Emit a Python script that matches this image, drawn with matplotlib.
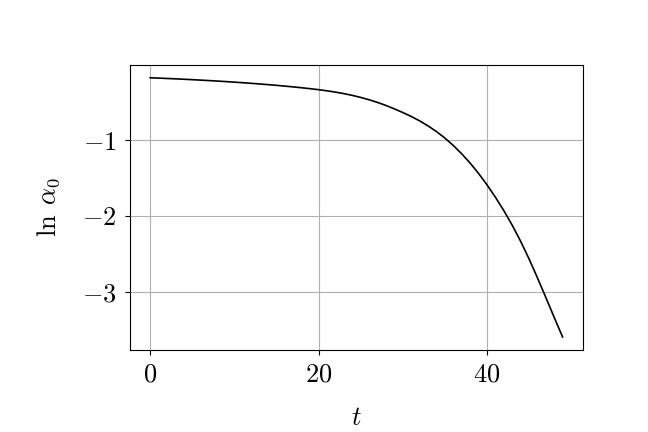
import matplotlib
matplotlib.use("Agg")
import matplotlib.pyplot as plt
import numpy as np

t = np.arange(50)

ln_alpha0 = [
    -0.1750, -0.1795, -0.1843, -0.1893, -0.1946,
    -0.2002, -0.2061, -0.2123, -0.2188, -0.2256,
    -0.2328, -0.2404, -0.2484, -0.2568, -0.2657,
    -0.2751, -0.2851, -0.2957, -0.3070, -0.3191,
    -0.3321, -0.3471, -0.3641, -0.3841, -0.4071,
    -0.4341, -0.4651, -0.5001, -0.5401, -0.5851,
    -0.6331, -0.6851, -0.7431, -0.8091, -0.8841,
    -0.9691, -1.0671, -1.1771, -1.2991, -1.4351,
    -1.5851, -1.7481, -1.9251, -2.1171, -2.3291,
    -2.5611, -2.8111, -3.0711, -3.3361, -3.5950]

xticks = [0, 20, 40]
yticks = [-1, -2, -3]

plt.rcParams.update({
    "mathtext.fontset": "cm",
    "font.family": "serif",
    "font.serif": ["cmr10", "DejaVu Serif"],
    "axes.formatter.use_mathtext": True,
    "font.size": 19,
})

fig = plt.figure(figsize=(6.48, 4.32), dpi=100)
ax = fig.add_axes([0.2, 0.19, 0.7, 0.66])
ax.plot(t, ln_alpha0, "k", linewidth=1.2)
ax.set_xticks(xticks)
ax.set_yticks(yticks)
ax.set_xticklabels([r"$%d$" % v for v in xticks])
ax.set_yticklabels([r"$%d$" % v for v in yticks])
ax.grid(True, color="#b0b0b0", linewidth=0.8)
ax.set_xlabel(r"$t$", labelpad=14)
ax.set_ylabel(r"$\ln\;\alpha_0$", labelpad=14)
for s in ax.spines.values():
    s.set_linewidth(0.8)
ax.tick_params(length=3.5, width=0.8, pad=6)

fig.savefig("out.png", dpi=100)
plt.close()
